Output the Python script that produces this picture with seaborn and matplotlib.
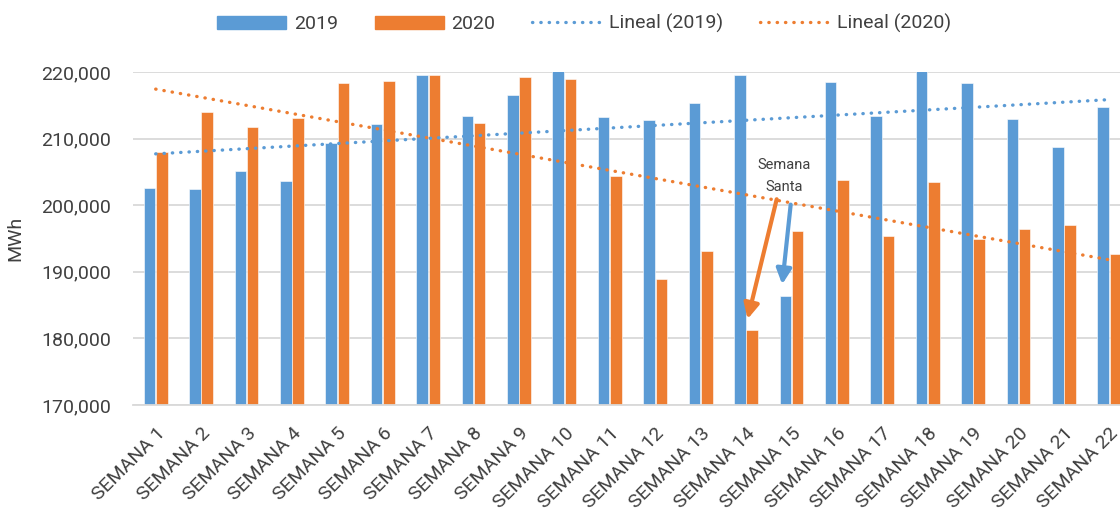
import numpy as np
import pandas as pd
import matplotlib
matplotlib.use('Agg')
import matplotlib.pyplot as plt
import seaborn as sns
from matplotlib.patches import Patch
from matplotlib.lines import Line2D
from matplotlib.ticker import FuncFormatter

# datos (MWh por semana)
semanas = [f'SEMANA {i}' for i in range(1, 23)]
mwh_2019 = [202600, 202400, 205100, 203600, 209300, 212200, 219600, 213400, 216500, 220200, 213200,
            212800, 215400, 219600, 186400, 218500, 213400, 220200, 218400, 212900, 208800, 214700]
mwh_2020 = [208000, 214000, 211800, 213100, 218300, 218700, 219500, 212300, 219200, 218900, 204400,
            188900, 193100, 181300, 196200, 203800, 195400, 203500, 195000, 196500, 197000, 192700]

azul = '#5B9BD5'
naranja = '#ED7D31'
gris = '#404040'
punteado = (0, (0.1, 2.4))

df = pd.DataFrame({
    'semana': semanas * 2,
    'MWh': mwh_2019 + mwh_2020,
    'anio': ['2019'] * len(semanas) + ['2020'] * len(semanas),
})

sns.set_style('white')
plt.rcParams['font.family'] = ['Roboto', 'DejaVu Sans']

fig = plt.figure(figsize=(11.2, 5.12), dpi=100)
ax = fig.add_axes([133 / 1120, 107 / 512, 999 / 1120, 333 / 512])

sns.barplot(data=df, x='semana', y='MWh', hue='anio', palette=[azul, naranja],
            width=0.54, gap=0.06, ax=ax, legend=False, saturation=1,
            edgecolor='white', linewidth=0.4)

# líneas de tendencia lineal
x = np.arange(len(semanas))
for valores, color in [(mwh_2019, azul), (mwh_2020, naranja)]:
    m, b = np.polyfit(x, valores, 1)
    ax.plot(x, m * x + b, color=color, lw=2.4, linestyle=punteado,
            dash_capstyle='round', zorder=5)

ax.set_ylim(170000, 220000)
ax.set_xlim(-0.5, len(semanas) - 0.5)
ax.set_yticks(range(170000, 220001, 10000))
ax.yaxis.set_major_formatter(FuncFormatter(lambda v, p: f'{int(v):,}'))
ax.grid(axis='y', color='#D9D9D9', lw=1.3)
ax.set_axisbelow(True)
for s in ['top', 'right', 'left']:
    ax.spines[s].set_visible(False)
ax.spines['bottom'].set_color('#D9D9D9')
ax.spines['bottom'].set_linewidth(1.3)
ax.tick_params(length=0, labelsize=14, colors=gris)
ax.tick_params(axis='y', pad=16)
ax.tick_params(axis='x', pad=14)
plt.setp(ax.get_xticklabels(), rotation=45, ha='right', va='top', rotation_mode='anchor')
ax.set_xlabel('')
ax.set_ylabel('MWh', fontsize=14, color=gris, labelpad=12)

# anotación Semana Santa
ax.text(13.83, 204400, 'Semana\nSanta', ha='center', va='center', fontsize=10.5,
        color=gris, linespacing=1.7)
ax.annotate('', xy=(13.02, 182500), xytext=(13.69, 201300),
            arrowprops=dict(arrowstyle='-|>,head_length=0.9,head_width=0.45', color=naranja, lw=3))
ax.annotate('', xy=(13.79, 187700), xytext=(13.99, 200500),
            arrowprops=dict(arrowstyle='-|>,head_length=0.9,head_width=0.45', color=azul, lw=3))

handles = [
    Patch(color=azul, label='2019'),
    Patch(color=naranja, label='2020'),
    Line2D([], [], color=azul, lw=2.4, linestyle=punteado, dash_capstyle='round', label='Lineal (2019)'),
    Line2D([], [], color=naranja, lw=2.4, linestyle=punteado, dash_capstyle='round', label='Lineal (2020)'),
]
fig.legend(handles=handles, loc='center', bbox_to_anchor=(584 / 1120, 1 - 23.7 / 512), ncol=4,
           frameon=False, fontsize=14, labelcolor=gris, handlelength=3.55, handleheight=0.68,
           columnspacing=1.9, handletextpad=0.4)

fig.savefig('out.png', dpi=100)
